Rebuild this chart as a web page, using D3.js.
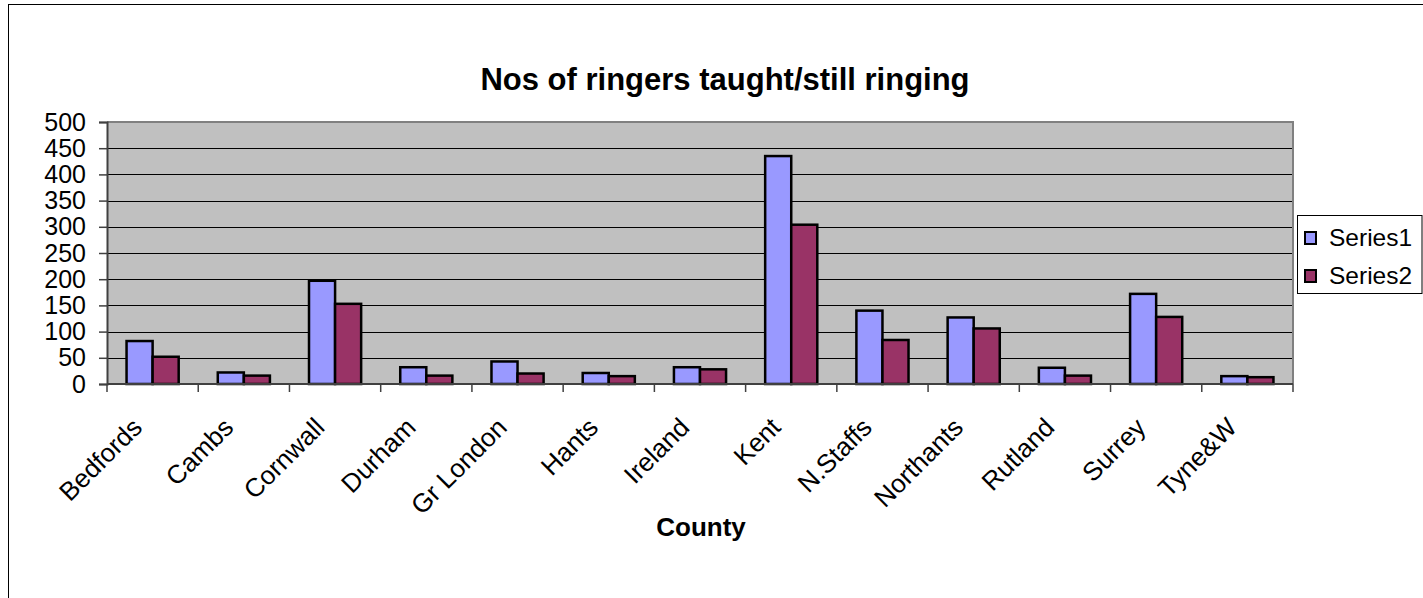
<!DOCTYPE html>
<html>
<head>
<meta charset="utf-8">
<script src="https://cdn.jsdelivr.net/npm/d3@7"></script>
<style>
html,body{margin:0;padding:0;background:#fff;overflow:hidden;}
text{font-family:Arial,"Liberation Sans",sans-serif;}
</style>
</head>
<body>
<svg id="chart" width="1423" height="598"></svg>
<script>
const categories = ["Bedfords","Cambs","Cornwall","Durham","Gr London","Hants","Ireland","Kent","N.Staffs","Northants","Rutland","Surrey","Tyne&W"];
const seriesNames = ["Series1","Series2"];
const series1 = [82,22,197,32,43,21,32,435,140,127,31,172,15];
const series2 = [52,16,153,16,20,15,28,304,84,106,16,128,13];
const yTicks = [0,50,100,150,200,250,300,350,400,450,500];
const colors = ["#9999FF","#993366"];
const title = "Nos of ringers taught/still ringing";
const xTitle = "County";

const svg = d3.select("#chart");
const L = 107, R = 1293, T = 122, B = 384;

// outer chart border
svg.append("rect").attr("x",8.5).attr("y",4.5).attr("width",1500).attr("height",700)
  .attr("fill","#fff").attr("stroke","#000").attr("stroke-width",1);

const x0 = d3.scaleBand().domain(categories).range([L,R]).paddingInner(0).paddingOuter(0);
const x1 = d3.scaleBand().domain(seriesNames).range([0,x0.bandwidth()]).paddingInner(0).paddingOuter(0.75);
const y = d3.scaleLinear().domain([0,500]).range([B,T]);

// plot area
svg.append("rect").attr("x",L).attr("y",T).attr("width",R-L).attr("height",B-T).attr("fill","#C0C0C0");

// gridlines
svg.append("g").selectAll("line").data(yTicks.filter(d=>d>0 && d<500)).join("line")
  .attr("x1",L).attr("x2",R).attr("y1",d=>Math.round(y(d))+0.5).attr("y2",d=>Math.round(y(d))+0.5)
  .attr("stroke","#000").attr("stroke-width",1);

// plot border top/right
svg.append("path").attr("d",`M${L},${T} H${R} V${B}`).attr("fill","none").attr("stroke","#808080").attr("stroke-width",2);

// bars
const data = categories.map((c,i)=>({cat:c, vals:[series1[i],series2[i]]}));
const groups = svg.append("g").selectAll("g").data(data).join("g")
  .attr("transform",d=>`translate(${x0(d.cat)},0)`);
groups.selectAll("rect").data(d=>d.vals.map((v,j)=>({s:seriesNames[j],v:v,j:j}))).join("rect")
  .attr("x",d=>x1(d.s)).attr("width",x1.bandwidth())
  .attr("y",d=>y(d.v)).attr("height",d=>B-y(d.v))
  .attr("fill",d=>colors[d.j]).attr("stroke","#000").attr("stroke-width",2.5);

// y axis
const yAxis = d3.axisLeft(y).tickValues(yTicks).tickSize(8).tickPadding(13);
const gy = svg.append("g").attr("transform",`translate(${L},0)`).call(yAxis);
gy.select(".domain").attr("stroke","#404040").attr("stroke-width",2);
gy.selectAll(".tick line").attr("stroke","#404040").attr("stroke-width",1.5);
gy.selectAll(".tick text").attr("font-size",25).attr("fill","#000")
  .attr("font-family","Arial, 'Liberation Sans', sans-serif");

// x axis line and ticks at category boundaries
svg.append("line").attr("x1",L).attr("x2",R).attr("y1",B).attr("y2",B).attr("stroke","#404040").attr("stroke-width",2);
const bounds = d3.range(categories.length+1).map(i=>L + i*x0.step());
svg.append("g").selectAll("line").data(bounds).join("line")
  .attr("x1",d=>d).attr("x2",d=>d).attr("y1",B).attr("y2",B+8)
  .attr("stroke","#404040").attr("stroke-width",1.5);

// x labels
svg.append("g").selectAll("text").data(categories).join("text")
  .attr("transform",d=>`translate(${x0(d)+x0.bandwidth()/2-9},${B+45}) rotate(-45)`)
  .attr("text-anchor","end").attr("font-size",26).attr("fill","#000")
  .text(d=>d);

// title
svg.append("text").attr("x",725).attr("y",90).attr("text-anchor","middle")
  .attr("font-size",31).attr("font-weight","bold").text(title);

// x title
svg.append("text").attr("x",701).attr("y",536).attr("text-anchor","middle")
  .attr("font-size",26).attr("font-weight","bold").text(xTitle);

// legend
const lg = svg.append("g");
lg.append("rect").attr("x",1297.5).attr("y",215.5).attr("width",124.5).attr("height",78)
  .attr("fill","#fff").attr("stroke","#000").attr("stroke-width",1);
const items = lg.selectAll("g").data(seriesNames).join("g")
  .attr("transform",(d,i)=>`translate(0,${i*38})`);
items.append("rect").attr("x",1305).attr("y",232).attr("width",11).attr("height",12)
  .attr("fill",(d,i)=>colors[i]).attr("stroke","#000").attr("stroke-width",2);
items.append("text").attr("x",1329).attr("y",246).attr("font-size",24.5).text(d=>d);
</script>
</body>
</html>
